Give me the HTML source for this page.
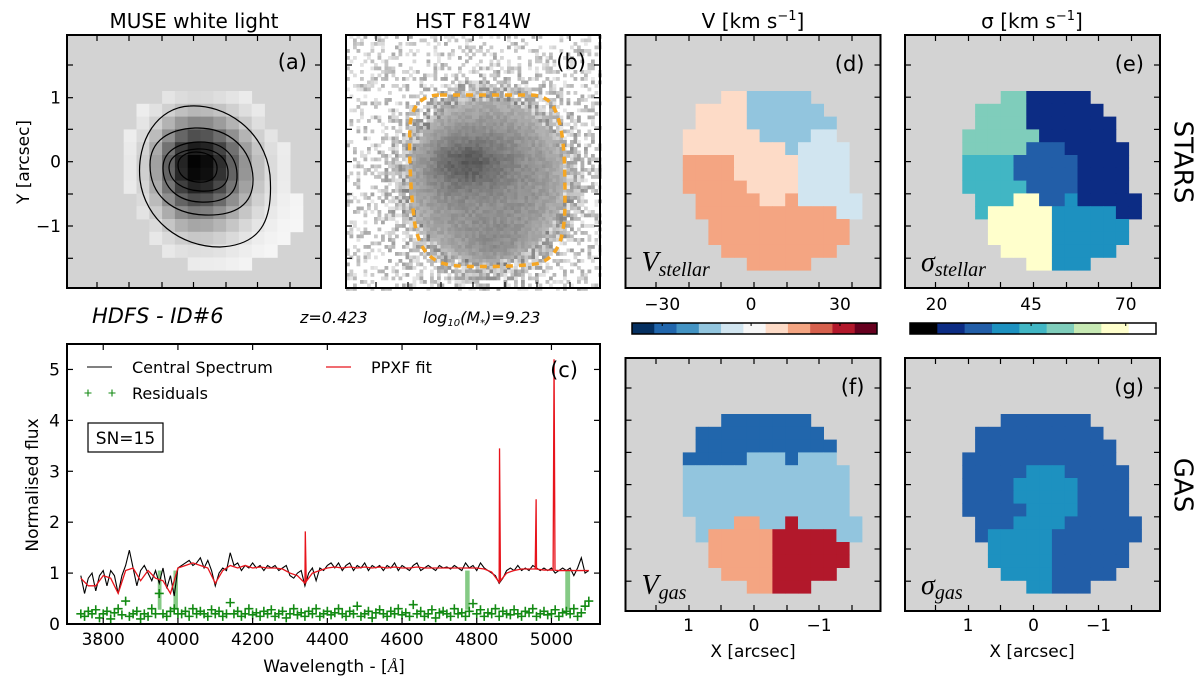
<!DOCTYPE html>
<html><head><meta charset="utf-8">
<style>
html,body{margin:0;padding:0;background:#fff;}
svg{display:block;font-family:"DejaVu Sans","Liberation Sans",sans-serif;}
</style></head>
<body>
<svg id="fig" width="1200" height="684" viewBox="0 0 1200 684" xmlns="http://www.w3.org/2000/svg">
<rect x="0" y="0" width="1200" height="684" fill="#fff"/>
<g id="layer"></g>
<text x="194" y="28" font-size="20" text-anchor="middle">MUSE white light</text>
<text x="473" y="28" font-size="20" text-anchor="middle">HST F814W</text>
<text x="753" y="28" font-size="20" text-anchor="middle">V [km s<tspan dy="-8" font-size="13">−1</tspan><tspan dy="8">]</tspan></text>
<text x="1032" y="28" font-size="20" text-anchor="middle">σ [km s<tspan dy="-8" font-size="13">−1</tspan><tspan dy="8">]</tspan></text>
<text x="24" y="162" font-size="17" text-anchor="middle" transform="rotate(-90 24 162)" dominant-baseline="middle">Y [arcsec]</text>
<text x="1182" y="162" font-size="26" text-anchor="middle" transform="rotate(90 1182 162)" dominant-baseline="middle">STARS</text>
<text x="1182" y="485" font-size="26" text-anchor="middle" transform="rotate(90 1182 485)" dominant-baseline="middle">GAS</text>
<text x="92" y="323" font-size="21" font-style="italic">HDFS - ID#6</text>
<text x="300" y="323" font-size="16" font-style="italic">z=0.423</text>
<text x="423" y="323" font-size="16" font-style="italic">log<tspan font-size="10" dy="3">10</tspan><tspan dy="-3">(M</tspan><tspan font-size="10" dy="3">*</tspan><tspan dy="-3">)=9.23</tspan></text>
<text x="33" y="485" font-size="17" text-anchor="middle" transform="rotate(-90 33 485)" dominant-baseline="middle">Normalised flux</text>
<text x="334" y="672" font-size="17" text-anchor="middle">Wavelength - [<tspan font-family="Liberation Serif" font-style="italic">Å</tspan>]</text>
<text x="753" y="657" font-size="17" text-anchor="middle">X [arcsec]</text>
<text x="1032" y="657" font-size="17" text-anchor="middle">X [arcsec]</text>
</svg>
<script>
// ---------------- data ----------------
const specStart = 3740, specStep = 10;
const fluxValues = [0.95,0.6,0.9,1.0,0.65,0.95,1.05,0.75,1.05,0.95,
0.6,0.95,1.15,1.45,1.1,0.75,1.05,1.15,1.0,0.85,
1.05,0.8,1.1,0.7,0.95,0.55,1.1,1.15,1.2,1.25,
1.15,1.2,1.3,1.1,1.25,1.05,0.75,1.0,1.1,1.05,
1.4,1.15,1.2,1.05,1.15,1.1,1.2,1.1,1.15,1.05,
1.15,1.1,1.15,1.05,1.1,1.15,0.95,0.9,1.0,1.05,
0.75,1.0,1.1,0.85,1.1,1.05,1.15,1.2,1.1,1.2,
1.05,1.15,1.2,1.05,1.15,1.1,1.2,1.05,1.15,1.1,
1.15,1.05,1.15,1.1,1.2,1.05,1.15,1.1,1.05,1.15,
1.2,1.05,1.1,1.15,1.1,1.05,1.15,1.1,1.12,1.08,
1.15,1.1,1.05,1.2,1.1,1.15,1.05,1.2,1.1,1.05,
1.0,0.95,0.8,0.9,1.05,1.1,1.05,1.15,1.05,1.1,
1.05,1.15,1.1,1.05,1.1,1.05,1.1,1.0,1.05,1.1,
1.05,1.1,0.95,1.1,1.3,1.0,1.05];
const residualValues = [0.2,0.15,0.25,0.2,0.28,0.12,0.2,0.25,0.1,0.22,
0.3,0.18,0.45,0.15,0.2,0.25,0.1,0.2,0.15,0.3,
0.2,0.6,0.2,0.15,0.25,0.3,0.2,0.2,0.25,0.15,
0.3,0.2,0.25,0.2,0.15,0.28,0.2,0.25,0.15,0.2,
0.42,0.2,0.25,0.15,0.2,0.3,0.18,0.22,0.15,0.25,
0.2,0.28,0.15,0.2,0.25,0.12,0.2,0.3,0.18,0.22,
0.15,0.25,0.2,0.3,0.15,0.2,0.25,0.18,0.22,0.3,
0.2,0.15,0.25,0.2,0.35,0.15,0.2,0.25,0.12,0.22,
0.28,0.2,0.15,0.25,0.2,0.3,0.18,0.22,0.15,0.38,
0.2,0.25,0.15,0.2,0.28,0.12,0.22,0.25,0.2,0.15,
0.3,0.2,0.22,0.15,0.25,0.4,0.2,0.28,0.15,0.22,
0.2,0.3,0.15,0.25,0.2,0.18,0.28,0.2,0.15,0.25,
0.22,0.3,0.15,0.2,0.25,0.18,0.2,0.28,0.15,0.22,
0.25,0.2,0.3,0.15,0.22,0.35,0.45];
const fitStart = 3740, fitStep = 20;
const fitValues = [0.9,0.75,0.75,0.95,0.9,0.6,1.05,1.1,0.85,1.05,0.9,0.85,0.6,1.1,1.15,1.2,1.15,1.1,0.8,1.05,
1.15,1.1,1.15,1.1,1.12,1.1,1.1,1.08,1.0,0.95,0.8,1.0,1.05,1.1,1.12,1.1,1.12,1.1,1.12,1.1,
1.12,1.1,1.12,1.1,1.1,1.12,1.1,1.1,1.1,1.1,1.1,1.1,1.1,1.1,1.08,1.02,0.82,1.0,1.05,1.08,
1.08,1.08,1.06,1.06,1.05,1.05,1.05,1.05,1.05];
const emissionWave = [4341,4861,4959,5007];
const emissionPeak = [1.82,3.45,2.45,5.2];
const maskedStart = [3946,3988,4769,5037];
const maskedEnd = [3956,4000,4781,5050];
const xTicks = [3800,4000,4200,4400,4600,4800,5000];
const yTicks = [0,1,2,3,4,5];

const vStellar = ["...ppbbbbb....",".ppppbbbbbb...",".ppppbbbbbbb..","ppppppbbbbll..","ppppppppbllll.",
"sssspppppllll.","sssspppppllll.","sssssppppllll.",".sssssppslllll",".sssssssssssll","..sssssssssss.",
"..sssssssssss.","...sssssssss..",".....sssss...."];
const sStellar = ["...ttnnnnn....",".ttttnnnnnn...",".ttttnnnnnnn..","ttttttnnnnnn..","tttttmmmnnnnn.",
"ccccmmmmmnnnn.","ccccmmmmmnnnn.","cccccmmmmnnnn.",".cccyymmknnnnn",".cyyyyykkkkknn","..yyyyykkkkkk.",
"..yyyyykkkkkk.","...yyyykkkkk..",".....yykkk...."];
const vGas = ["...DDDDDDD....",".DDDDDDDDDD...",".DDDDDDDDDDD..","DDDDDbbbDbbb..","bbbbbbbbbbbbb.",
"bbbbbbbbbbbbb.","bbbbbbbbbbbbb.","bbbbbbbbbbbbb.",".bbbssbbrbbbbb",".bsssssrrrrrbb","..sssssrrrrrr.",
"..sssssrrrrrr.","...ssssrrrrr..",".....ssrrr...."];
const sGas = ["...mmmmmmm....",".mmmmmmmmmm...",".mmmmmmmmmmm..","mmmmmmmmmmmm..","mmmmmkkkmmmmm.",
"mmmmkkkkkmmmm.","mmmmkkkkkmmmm.","mmmmmkkkkmmmm.",".mmmkkkkmmmmmm",".mkkkkkmmmmmmm","..kkkkkmmmmmm.",
"..kkkkkmmmmmm.","...kkkkmmmmm..",".....kkmmm...."];
const museRows = [[3,9],[1,10],[1,10],[0,11],[0,12],[0,12],[0,12],[0,12],[1,13],[1,13],[2,13],[2,12],[3,11],[5,9]];
const vBarColors = ["#053061","#2166ac","#4393c3","#92c5de","#d1e5f0","#f7f7f7","#fddbc7","#f4a582","#d6604d","#b2182b","#67001f"];
const vBarTicks = [-30,0,30];
const sBarColors = ["#000000","#0c2c84","#225ea8","#1d91c0","#41b6c4","#7fcdbb","#c7e9b4","#ffffcc","#ffffff"];
const sBarTicks = [20,45,70];

// ---------------- helpers ----------------
const NS = "http://www.w3.org/2000/svg";
const layer = document.getElementById("layer");
function mk(tag, attrs, parent){const e=document.createElementNS(NS,tag);for(const k in attrs)e.setAttribute(k,attrs[k]);(parent||layer).appendChild(e);return e;}
const pal = {p:"#fddbc7",b:"#92c5de",l:"#d1e5f0",s:"#f4a582",D:"#2166ac",r:"#b2182b",t:"#7fcdbb",n:"#0c2c84",m:"#225ea8",c:"#41b6c4",y:"#ffffcc",k:"#1d91c0"};
const CELL = 12.8;

function panelFrame(x0,y0,w,h,name,label,bg){
  const g = mk("g",{});
  
  
  if(bg){const r=mk("rect",{x:x0,y:y0,width:w,height:h,fill:bg},g);
    
    }
  return g;
}
function frameTicks(g,x0,y0,w,h,xs,ys,len){
  xs.forEach(x=>{mk("line",{x1:x,x2:x,y1:y0,y2:y0+len,stroke:"#000","stroke-width":1.2},g);mk("line",{x1:x,x2:x,y1:y0+h,y2:y0+h-len,stroke:"#000","stroke-width":1.2},g);});
  ys.forEach(y=>{mk("line",{x1:x0,x2:x0+len,y1:y,y2:y,stroke:"#000","stroke-width":1.2},g);mk("line",{x1:x0+w,x2:x0+w-len,y1:y,y2:y,stroke:"#000","stroke-width":1.2},g);});
  const b=mk("rect",{x:x0,y:y0,width:w,height:h,fill:"none",stroke:"#000","stroke-width":2},g);
  
  
}
function panelLabel(g,x,y,txt){
  const t=mk("text",{x:x,y:y,"font-size":21,"text-anchor":"end"},g);t.textContent=txt;
  
  
}
function drawMap(g,rows,ox,oy,name){
  rows.forEach((row,ri)=>{for(let ci=0;ci<row.length;ci++){const ch=row[ci];if(ch===".")continue;
    const r=mk("rect",{x:(ox+ci*CELL).toFixed(2),y:(oy+ri*CELL).toFixed(2),width:CELL+0.4,height:CELL+0.4,fill:pal[ch]},g);
    
    }});
}
function mathLabel(g,x,y,main,sub,name){
  const t=mk("text",{x:x,y:y,"font-size":28,"font-family":"Liberation Serif, serif","font-style":"italic"},g);
  
  
  const a=mk("tspan",{},t);a.textContent=main;
  const b=mk("tspan",{"font-size":20,dy:5},t);b.textContent=sub;
}
const mapXT=[656,689,721,754,787,819,852];
const mapYT=[65,97.7,129.3,161.7,194,226,258.3];

// ---------------- panel a ----------------
{
  const x0=67,y0=35,w=254,h=253;
  const g=panelFrame(x0,y0,w,h,"panel-a-muse","", "#d3d3d3");
  const ox=123.7, oy=91, cx=197, cy=165;
  museRows.forEach((se,ri)=>{for(let ci=se[0];ci<=se[1];ci++){
    const px=ox+(ci+0.5)*CELL, py=oy+(ri+0.5)*CELL;
    const dx=(px-cx)/(px<cx?24:30), dy=(py-cy)/(py<cy?28:34);
    const v=Math.exp(-(dx*dx+dy*dy)/2);
    const gv=Math.round(248-248*Math.pow(v,0.7));
    const r=mk("rect",{x:(ox+ci*CELL).toFixed(2),y:(oy+ri*CELL).toFixed(2),width:CELL+0.4,height:CELL+0.4,fill:`rgb(${gv},${gv},${gv})`},g);
    
    }});
  const contours=[
    "M190,106 C225,104 265,130 270,175 C273,215 265,245 220,247 C180,247 145,220 140,180 C136,140 158,107 190,106 Z",
    "M195,128 C230,127 252,150 253,178 C254,205 235,216 205,215 C172,214 150,195 150,165 C150,140 170,129 195,128 Z",
    "M198,142 C225,141 238,158 237,178 C236,196 222,203 200,202 C178,201 163,188 163,168 C163,152 177,143 198,142 Z",
    "M197,149 C218,148 229,160 228,175 C227,188 215,192 200,191 C183,190 170,182 169,168 C169,156 181,150 197,149 Z",
    "M196,152 C210,152 218,160 217,170 C216,180 207,183 197,182 C186,181 178,175 178,165 C178,157 186,152 196,152 Z"];
  contours.forEach(d=>{const p=mk("path",{d:d,fill:"none",stroke:"#000","stroke-width":1.2},g);
    
    });
  frameTicks(g,x0,y0,w,h,[97,129,162,193.5,226,257.5,290],mapYT,6);
  panelLabel(g,x0+w-14,y0+34,"(a)");
  [[1,97.7],[0,161.7],[-1,226]].forEach(([v,y])=>{const t=mk("text",{x:61,y:y+6,"font-size":17,"text-anchor":"end"},g);t.textContent=v<0?"−1":String(v);
    
    });
}
// ---------------- panel b ----------------
{
  const x0=346,y0=35,w=254,h=253;
  const g=panelFrame(x0,y0,w,h,"panel-b-hst","","#ffffff");
  let seed=12345;function rnd(){seed=(seed*1664525+1013904223)%4294967296;return seed/4294967296;}
  const cs=3.5, n=Math.ceil(w/cs), m=Math.ceil(h/cs);
  for(let j=0;j<m;j++)for(let i=0;i<n;i++){
    const px=x0+(i+0.5)*cs, py=y0+(j+0.5)*cs;
    const dx=(px-487)/92, dy=(py-181)/96;
    const r4=Math.pow(dx*dx+dy*dy,2);
    const disk=Math.exp(-r4);
    const c1=Math.exp(-(((px-468)/38)**2+((py-163)/26)**2));
    const c2=Math.exp(-(((px-495)/30)**2+((py-245)/20)**2));
    let base=(1-disk)*225+disk*145-55*c1-20*c2;
    const noise=(rnd()-0.5)*(disk>0.6?22:110);
    let gv=Math.max(60,Math.min(255,Math.round(base+noise+(disk<0.3&&rnd()<0.45?70:0))));
    if(gv>232)continue;
    const r=mk("rect",{x:(x0+i*cs).toFixed(1),y:(y0+j*cs).toFixed(1),width:cs+0.3,height:cs+0.3,fill:`rgb(${gv},${gv},${gv})`},g);
    
    
  }
  const p=mk("path",{d:"M440,95 L530,95 C548,95 553,105 556,112 C563,130 565,150 565,200 C565,235 560,255 540,263 C525,267 470,267 460,266 C430,265 420,250 415,225 C410,190 409,150 410,125 C412,105 422,95 440,95 Z",fill:"none",stroke:"#f5a623","stroke-width":3.5,"stroke-dasharray":"7,6"},g);
  
  
  frameTicks(g,x0,y0,w,h,[376,408,441,473,505,537,570],mapYT,6);
  panelLabel(g,x0+w-14,y0+34,"(b)");
}
// ---------------- maps d,e,f,g ----------------
function mapPanel(x0,y0,rows,name,label,ml,ms,bottomLabels){
  const w=255,h=253;
  const g=panelFrame(x0,y0,w,h,name,"","#d3d3d3");
  drawMap(g,rows,x0+57.3,y0+56,name);
  const dx=x0-625.5;
  frameTicks(g,x0,y0,w,h,mapXT.map(v=>v+dx),[0,1,2,3,4,5,6].map(k=>y0+30+k*32.2),6);
  panelLabel(g,x0+w-16,y0+36,label);
  mathLabel(g,x0+16,y0+h-17,ml,ms,name+"-quantity-label");
  if(bottomLabels){[[1,688.5],[0,754],[-1,819]].forEach(([v,x])=>{const t=mk("text",{x:x+dx,y:y0+h+20,"font-size":17,"text-anchor":"middle"},g);t.textContent=v<0?"−1":String(v);
    
    });}
}
mapPanel(625.5,35,vStellar,"panel-d-v-stellar","(d)","V","stellar",false);
mapPanel(905,35,sStellar,"panel-e-sigma-stellar","(e)","σ","stellar",false);
mapPanel(625.5,358,vGas,"panel-f-v-gas","(f)","V","gas",true);
mapPanel(905,358,sGas,"panel-g-sigma-gas","(g)","σ","gas",true);

// ---------------- colorbars ----------------
function colorbar(x0,x1,colors,ticks,vmin,vmax,name){
  const g=mk("g",{});
  
  
  const y=323,h=11,sw=(x1-x0)/colors.length;
  colors.forEach((c,i)=>{const r=mk("rect",{x:x0+i*sw,y:y,width:sw+0.3,height:h,fill:c},g);
    
    });
  mk("rect",{x:x0,y:y,width:x1-x0,height:h,fill:"none",stroke:"#000","stroke-width":1.5},g);
  ticks.forEach(v=>{const x=x0+(v-vmin)/(vmax-vmin)*(x1-x0);
    mk("line",{x1:x,x2:x,y1:y,y2:y+3,stroke:"#000"},g);
    const t=mk("text",{x:x,y:310,"font-size":17,"text-anchor":"middle"},g);t.textContent=v<0?"−"+(-v):String(v);
    
    });
}
colorbar(632,877,vBarColors,vBarTicks,-40.2,42.5,"colorbar-velocity");
colorbar(910,1156,sBarColors,sBarTicks,13.0,78.0,"colorbar-dispersion");

// ---------------- spectrum ----------------
{
  const X0=67,X1=600,Y0=344,Y1=624,W0=3703,W1=5130,F1=5.5;
  const xs=w=>X0+(w-W0)/(W1-W0)*(X1-X0);
  const ys=f=>Y1-f/F1*(Y1-Y0);
  const g=panelFrame(X0,Y0,X1-X0,Y1-Y0,"panel-c-spectrum","","#fff");
  maskedStart.forEach((s,i)=>{const r=mk("rect",{x:xs(s),y:ys(1.05),width:xs(maskedEnd[i])-xs(s),height:ys(0.28)-ys(1.05),fill:"#5cb85c","fill-opacity":0.75},g);
    
    });
  const rg=mk("g",{stroke:"#138a13","stroke-width":1.6},g);
  
  
  residualValues.forEach((v,i)=>{const w=specStart+i*specStep;const x=xs(w),y=ys(v);
    const p=mk("path",{d:`M${x-4.5},${y}H${x+4.5}M${x},${y-4.5}V${y+4.5}`},rg);
    
    });
  const pts=fluxValues.map((v,i)=>`${xs(specStart+i*specStep).toFixed(2)},${ys(v).toFixed(2)}`).join(" ");
  const sp=mk("polyline",{points:pts,fill:"none",stroke:"#000","stroke-width":1.1},g);
  
  
  const fp=[];
  fitValues.forEach((v,i)=>fp.push([fitStart+i*fitStep,v]));
  const fitAt=w=>{const i=Math.min(fitValues.length-2,Math.max(0,Math.floor((w-fitStart)/fitStep)));const t=(w-(fitStart+i*fitStep))/fitStep;return fitValues[i]*(1-t)+fitValues[i+1]*t;};
  emissionWave.forEach((c,i)=>{fp.push([c-2.5,fitAt(c-2.5)]);fp.push([c,emissionPeak[i]]);fp.push([c+2.5,fitAt(c+2.5)]);});
  fp.sort((a,b)=>a[0]-b[0]);
  const fl=mk("polyline",{points:fp.map(p=>`${xs(p[0]).toFixed(2)},${ys(p[1]).toFixed(2)}`).join(" "),fill:"none",stroke:"#e8141c","stroke-width":1.3},g);
  
  
  frameTicks(g,X0,Y0,X1-X0,Y1-Y0,xTicks.map(xs),yTicks.map(ys),6);
  xTicks.forEach(w=>{const t=mk("text",{x:xs(w),y:645,"font-size":17,"text-anchor":"middle"},g);t.textContent=w;
    
    });
  yTicks.forEach(f=>{const t=mk("text",{x:60,y:ys(f)+6,"font-size":17,"text-anchor":"end"},g);t.textContent=f;
    
    });
  const lg=mk("g",{},g);
  
  
  mk("line",{x1:87,x2:112,y1:367,y2:367,stroke:"#000","stroke-width":1},lg);
  let t=mk("text",{x:132,y:373,"font-size":16},lg);t.textContent="Central Spectrum";
  
  
  mk("line",{x1:326,x2:351,y1:367,y2:367,stroke:"#e8141c","stroke-width":1.3},lg);
  t=mk("text",{x:371,y:373,"font-size":16},lg);t.textContent="PPXF fit";
  
  
  [88,112].forEach(x=>mk("path",{d:`M${x-3.5},393H${x+3.5}M${x},389.5V396.5`,stroke:"#138a13","stroke-width":1.1},lg));
  t=mk("text",{x:132,y:399,"font-size":16},lg);t.textContent="Residuals";
  
  
  const sb=mk("rect",{x:88,y:423,width:75,height:29,fill:"#fff",stroke:"#000","stroke-width":1.2},g);
  
  
  t=mk("text",{x:125.5,y:444,"font-size":17,"text-anchor":"middle"},g);t.textContent="SN=15";
  
  
  panelLabel(g,X1-22,Y0+33,"(c)");
}
</script>
</body></html>
